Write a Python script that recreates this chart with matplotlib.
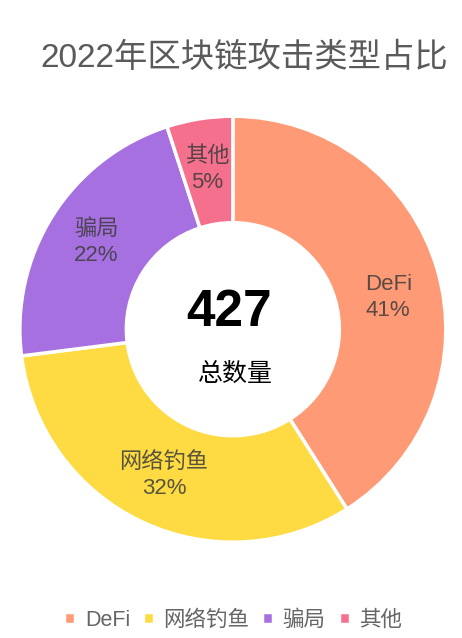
import matplotlib.pyplot as plt

# data
names = ["DeFi", "网络钓鱼", "骗局", "其他"]
shares = [41, 32, 22, 5]
colors = ["#FF9A76", "#FEDB43", "#A770E0", "#F5708D"]
total = "427"
total_label = "总数量"
title = "2022年区块链攻击类型占比"

FONTS = ["Liberation Sans", "Noto Sans CJK SC", "DejaVu Sans"]
plt.rcParams["font.family"] = FONTS

fig = plt.figure(figsize=(4.62, 6.38), dpi=100)
ax = fig.add_axes([0.043, 0.150, 0.922, 0.668])

wedges, texts, autotexts = ax.pie(
    shares, colors=colors, startangle=90, counterclock=False,
    radius=1.0, autopct="%d%%", pctdistance=0.76,
    wedgeprops=dict(width=0.5, edgecolor="white", linewidth=2.5),
    textprops=dict(fontsize=16, color="#3c3c3c"),
)
for t, name in zip(autotexts, names):
    t.set_text(name + "\n" + t.get_text())
    t.set_linespacing(1.3)
    t.set_alpha(0.85)
# the DeFi label sits a little lower in the original
x, y = autotexts[0].get_position()
autotexts[0].set_position((x, y - 0.065))

ax.text(-0.02, 0.08, total, ha="center", va="center", fontsize=37,
        fontweight="bold", color="black")
ax.text(0.01, -0.21, total_label, ha="center", va="center", fontsize=18,
        color="black", family=["Noto Sans CJK SC", "DejaVu Sans"])
ax.set_xlim(-1, 1)
ax.set_ylim(-1, 1)
ax.set_aspect("equal")

fig.text(0.528, 0.909, title, ha="center", va="center", fontsize=24,
         color="#5a5a5a")

fig.legend(wedges, names, loc="center", bbox_to_anchor=(0.505, 0.028),
           ncol=4, frameon=False, fontsize=15.5, handlelength=0.5,
           handleheight=0.5, handletextpad=0.45, columnspacing=0.6,
           labelcolor="#666666")

plt.savefig("out.png", dpi=100)
